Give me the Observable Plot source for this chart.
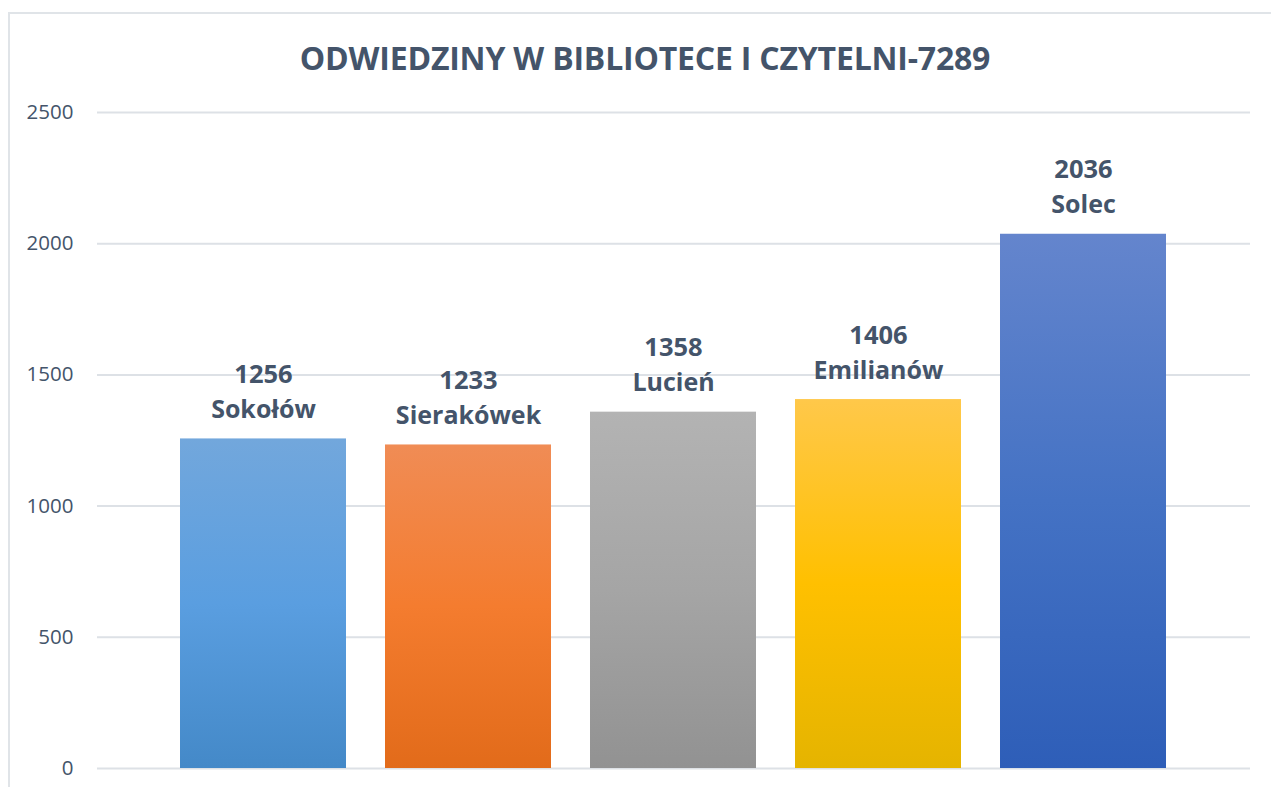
<!DOCTYPE html>
<html>
<head>
<meta charset="utf-8">
<script src="https://cdn.jsdelivr.net/npm/d3@7"></script>
<script src="https://cdn.jsdelivr.net/npm/@observablehq/plot@0.6"></script>
<style>
  html, body { margin: 0; padding: 0; background: #fff; }
  #wrap { position: relative; width: 1271px; height: 787px; overflow: hidden; font-family: "Open Sans", sans-serif; }
  #frame { position: absolute; left: 8px; top: 12px; right: -4px; bottom: -4px; border-top: 2px solid #e0e4e8; border-left: 2px solid #e0e4e8; }
  #title { position: absolute; left: 0; width: 1290px; top: 36px; text-align: center; font-weight: 700; font-size: 32px; line-height: 44px; color: #44546a; letter-spacing: -0.2px; }
  #chart { position: absolute; left: 0; top: 0; }
</style>
</head>
<body>
<div id="wrap">
  <div id="frame"></div>
  <div id="title">ODWIEDZINY W BIBLIOTECE I CZYTELNI-7289</div>
  <div id="chart"></div>
</div>
<script>
const categories = ["Sokołów", "Sierakówek", "Lucień", "Emilianów", "Solec"];
const values = [1256, 1233, 1358, 1406, 2036];
const yTicks = [0, 500, 1000, 1500, 2000, 2500];
// gradient stops per bar: top, middle, bottom
const barColors = [
  ["#72a7dc", "#5a9ee0", "#4489c8"],
  ["#f08c55", "#f47c2f", "#e26b1a"],
  ["#b3b3b3", "#a5a5a5", "#929292"],
  ["#ffc84a", "#ffc000", "#e5b400"],
  ["#6485cd", "#4472c4", "#2e5eb8"]
];

const data = categories.map((c, i) => ({ name: c, value: values[i], grad: `url(#grad${i})` }));

const plot = Plot.plot({
  width: 1271,
  height: 787,
  marginTop: 112,
  marginBottom: 19,
  marginLeft: 97,
  marginRight: 21,
  style: { fontFamily: "'Open Sans', sans-serif", color: "#44546a", background: "transparent" },
  x: { domain: categories, paddingInner: 0.19, paddingOuter: 0.404, axis: null },
  y: { domain: [0, 2500], ticks: yTicks, label: null },
  color: { type: "identity" },
  marks: [
    Plot.ruleY(yTicks, { stroke: "#dde1e6", strokeWidth: 2 }),
    Plot.axisY({ ticks: yTicks, tickSize: 0, tickPadding: 24, fontSize: 20.5, fill: "#44546a", label: null, tickFormat: d => String(d) }),
    Plot.barY(data, { x: "name", y: "value", fill: "grad" }),
    Plot.text(data, { x: "name", y: "value", text: d => String(d.value), dy: -64, fontSize: 25.5, fontWeight: 700, fill: "#44546a", lineAnchor: "middle" }),
    Plot.text(data, { x: "name", y: "value", text: "name", dy: -29, fontSize: 25, fontWeight: 700, fill: "#44546a", lineAnchor: "middle" })
  ]
});

const defs = d3.select(plot).insert("defs", ":first-child");
barColors.forEach((stops, i) => {
  const g = defs.append("linearGradient").attr("id", `grad${i}`).attr("x1", 0).attr("y1", 0).attr("x2", 0).attr("y2", 1);
  g.append("stop").attr("offset", "0%").attr("stop-color", stops[0]);
  g.append("stop").attr("offset", "50%").attr("stop-color", stops[1]);
  g.append("stop").attr("offset", "100%").attr("stop-color", stops[2]);
});

document.getElementById("chart").appendChild(plot);
</script>
</body>
</html>
